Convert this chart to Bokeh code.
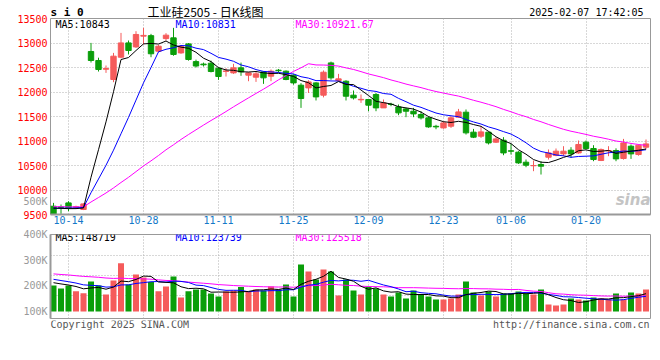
import pandas as pd
from bokeh.plotting import figure
from bokeh.layouts import column, row
from bokeh.models import Range1d, FixedTicker, Label, ColumnDataSource, Grid
from bokeh.core.properties import value
from bokeh.embed import file_html
from bokeh.resources import INLINE

# ---------------- data ----------------
dates = ["10-10", "10-11", "10-14", "10-15", "10-16", "10-17", "10-18", "10-21", "10-22", "10-23",
         "10-24", "10-25", "10-28", "10-29", "10-30", "10-31", "11-01", "11-04", "11-05", "11-06",
         "11-07", "11-08", "11-11", "11-12", "11-13", "11-14", "11-15", "11-18", "11-19", "11-20",
         "11-21", "11-22", "11-25", "11-26", "11-27", "11-28", "11-29", "12-02", "12-03", "12-04",
         "12-05", "12-06", "12-09", "12-10", "12-11", "12-12", "12-13", "12-16", "12-17", "12-18",
         "12-19", "12-20", "12-23", "12-24", "12-25", "12-26", "12-27", "12-30", "12-31", "01-02",
         "01-03", "01-06", "01-07", "01-08", "01-09", "01-10", "01-13", "01-14", "01-15", "01-16",
         "01-17", "01-20", "01-21", "01-22", "01-23", "01-24", "01-27", "02-05", "02-06", "02-07"]

open_ = [9669, 9655, 9737, 9650, 9602, 12827, 12643, 12465, 12255, 12710,
         13002, 12920, 13140, 13150, 12833, 13090, 13105, 12798, 12982, 12620,
         12570, 12588, 12486, 12420, 12390, 12493, 12343, 12302, 12410, 12323,
         12445, 12425, 12343, 12139, 12084, 12186, 11935, 12594, 12235, 12220,
         11935, 11840, 11847, 11949, 11676, 11750, 11696, 11655, 11608, 11541,
         11472, 11300, 11267, 11302, 11486, 11588, 11180, 11098, 11180, 10976,
         11016, 10800, 10772, 10567, 10495, 10520, 10669, 10704, 10737, 10812,
         10757, 10976, 10847, 10602, 10800, 10806, 10643, 10894, 10724, 10874]
high = [9737, 9704, 9771, 9680, 9730, 13002, 12700, 12541, 12798, 13206,
        13051, 13241, 13309, 13186, 12960, 13200, 13309, 12960, 13000, 12660,
        12600, 12640, 12500, 12486, 12575, 12600, 12400, 12425, 12420, 12460,
        12470, 12440, 12360, 12180, 12240, 12200, 12440, 12620, 12370, 12240,
        12031, 11949, 11860, 11982, 11847, 11780, 11745, 11676, 11676, 11608,
        11500, 11330, 11400, 11506, 11655, 11643, 11247, 11302, 11190, 11078,
        11078, 10941, 10792, 10622, 10602, 10588, 10827, 10847, 10894, 10874,
        11010, 11010, 10914, 10847, 10894, 10850, 11043, 10929, 10930, 11031]
low = [9505, 9512, 9567, 9620, 9590, 12602, 12418, 12390, 12200, 12690,
       12766, 12900, 12970, 12710, 12810, 13050, 12740, 12780, 12640, 12500,
       12520, 12400, 12248, 12316, 12370, 12330, 12220, 12206, 12166, 12220,
       12400, 12240, 12150, 11676, 11980, 11827, 11890, 12250, 12220, 11827,
       11847, 11778, 11608, 11608, 11676, 11710, 11527, 11486, 11486, 11439,
       11270, 11240, 11250, 11267, 11472, 11132, 11060, 11063, 10929, 10960,
       10710, 10724, 10533, 10465, 10384, 10316, 10622, 10690, 10690, 10657,
       10740, 10827, 10588, 10590, 10690, 10588, 10620, 10635, 10700, 10827]
close = [9512, 9645, 9635, 9658, 9716, 12643, 12459, 12478, 12731, 13002,
         12847, 13174, 13155, 12780, 12935, 13160, 12766, 12935, 12663, 12530,
         12555, 12419, 12316, 12430, 12493, 12410, 12390, 12370, 12289, 12425,
         12435, 12255, 12186, 11867, 12206, 11900, 12404, 12289, 12268, 11914,
         11880, 11850, 11731, 11676, 11778, 11745, 11574, 11608, 11553, 11472,
         11288, 11288, 11369, 11472, 11594, 11166, 11078, 11186, 10961, 11043,
         10757, 10792, 10553, 10506, 10500, 10486, 10757, 10792, 10792, 10737,
         10929, 10847, 10622, 10827, 10806, 10635, 10961, 10737, 10914, 10941]
# volume, in thousands (scale of the lower panel)
volume_k = [201, 190, 201, 179, 171, 217, 201, 166, 221, 288,
            205, 244, 232, 215, 179, 197, 236, 155, 179, 186,
            186, 170, 158, 178, 182, 195, 178, 186, 182, 197,
            186, 205, 158, 283, 256, 225, 264, 256, 162, 225,
            182, 166, 197, 190, 166, 158, 174, 151, 182, 166,
            158, 147, 147, 151, 166, 217, 174, 162, 178, 158,
            170, 170, 178, 170, 166, 186, 127, 123, 127, 151,
            147, 143, 155, 151, 147, 170, 147, 174, 170, 186]
# sessions before the first visible bar (estimated from where the MA lines start)
pre_close = [9700, 9720, 9690, 9665, 9680, 9710, 9695, 9660, 9650, 9675,
             9700, 9685, 9660, 9645, 9670, 9690, 9680, 9655, 9640, 9665,
             9630, 9615, 9625, 9610, 9640, 9660, 9670, 9655, 9650]
pre_volume_k = [262, 255, 270, 248, 265, 258, 252, 268, 260, 245,
                255, 263, 250, 258, 266, 254, 247, 260, 256, 251,
                238, 246, 232, 241, 236, 214, 222, 208, 216]

date_ticks = ["10-14", "10-28", "11-11", "11-25", "12-09", "12-23", "01-06", "01-20"]
price_ticks = [9500, 10000, 10500, 11000, 11500, 12000, 12500, 13000, 13500]
vol_ticks = [100, 200, 300, 400]

# ---------------- derived ----------------
n = len(close)
idx = list(range(n))
RED, GREEN = "#F55B5B", "#0A9E0A"
colors = [RED if c >= o else GREEN for o, c in zip(open_, close)]
np_ = len(pre_close)
ca = pd.Series(pre_close + close)
ma5 = ca.rolling(5).mean().values[np_:]
ma10 = ca.rolling(10).mean().values[np_:]
ma30 = ca.rolling(30).mean().values[np_:]
va = pd.Series(pre_volume_k + volume_k)
vma5 = va.rolling(5).mean().values[np_:]
vma10 = va.rolling(10).mean().values[np_:]
vma30 = va.rolling(30).mean().values[np_:]

src = ColumnDataSource(dict(
    x=idx, high=high, low=low,
    top=[max(o, c) for o, c in zip(open_, close)],
    bottom=[min(o, c) for o, c in zip(open_, close)],
    color=colors, vol=volume_k, ma5=ma5, ma10=ma10, ma30=ma30,
    vma5=vma5, vma10=vma10, vma30=vma30))

tick_idx = [dates.index(d) for d in date_ticks]
MONO = "DejaVu Sans Mono"
GRID = "#b0b0b0"
BORDER = "#999999"
W = 656
PX = 4000 / 196.0            # price units per pixel in the upper panel

xr = Range1d(-0.4, 79.6)


def strip(width, height, xr_, yr_, left=0, right=0):
    fig = figure(width=width, height=height, x_range=xr_, y_range=yr_,
                 x_axis_type=None, y_axis_type=None,
                 output_backend="svg", toolbar_location=None,
                 min_border_left=left, min_border_right=right, min_border_top=0, min_border_bottom=0)
    fig.background_fill_color = "white"
    fig.border_fill_color = "white"
    fig.outline_line_color = None
    return fig


def txt(fig, x, y, text, color="#000000", size="10px", align="left", font=MONO, style="normal"):
    fig.text(x=[x], y=[y], text=[text], text_font=value(font), text_font_size=size,
             text_font_style=style, text_baseline="middle", text_align=align, text_color=color)


def lab(fig, x, y, text, color="#000000"):
    fig.add_layout(Label(x=x, y=y, text=text, text_color=color, text_font=MONO,
                         text_font_size="10px", text_align="left", text_baseline="middle"))


# ---------------- left gutter with the price labels (same price scale) ----------------
gut = strip(50, 228, Range1d(0, 50), Range1d(9500 - 14 * PX, 13500 + 18 * PX))
gut.text(x=[47] * len(price_ticks), y=price_ticks, text=[str(t) for t in price_ticks],
         text_font=value(MONO), text_font_size="10px", text_baseline="middle",
         text_align="right", text_color="#FF0000")
txt(gut, 47, 9775, "500K", color="#999999", align="right")

# ---------------- header strip (page pixel units, y downward) ----------------
h = strip(606, 18, Range1d(50, 656), Range1d(18, 0))
txt(h, 50, 11.5, "s i 0", size="11px", style="bold")
txt(h, 148, 10.5, "工业硅2505 - 日K线图", size="12px", font="Noto Sans CJK SC")
txt(h, 649, 11.5, "2025-02-07 17:42:05", align="right")

# ---------------- price panel ----------------
p = figure(width=606, height=210, x_range=xr, y_range=Range1d(9500, 13500),
           y_axis_type=None, output_backend="svg", toolbar_location=None,
           min_border_left=0, min_border_right=6, min_border_top=0, min_border_bottom=14)
p.background_fill_color = "white"
p.border_fill_color = "white"
p.outline_line_color = BORDER
p.outline_line_width = 1

p.xaxis.ticker = FixedTicker(ticks=tick_idx)
p.xaxis.major_label_overrides = {i: d for i, d in zip(tick_idx, date_ticks)}
p.xaxis.major_label_text_color = "#1478C8"
p.xaxis.major_label_text_font = MONO
p.xaxis.major_label_text_font_size = "10px"
p.xaxis.major_tick_out = 0
p.xaxis.major_tick_in = 0
p.xaxis.minor_tick_line_color = None
p.xaxis.major_label_standoff = 1
p.xaxis.axis_line_color = BORDER
p.xaxis.axis_line_width = 2
p.xgrid.grid_line_color = GRID
p.xgrid.grid_line_dash = "1 2"
p.add_layout(Grid(dimension=1, ticker=FixedTicker(ticks=price_ticks), grid_line_color=GRID,
                  grid_line_dash="1 2", grid_line_width=1))

p.segment(x0="x", y0="high", x1="x", y1="low", color="color", line_width=1, source=src)
p.vbar(x="x", width=0.72, top="top", bottom="bottom", fill_color="color",
       line_color="color", line_width=1, source=src)
p.line("x", "ma30", color="#FF00FF", line_width=1, source=src)
p.line("x", "ma10", color="#0000FF", line_width=1, source=src)
p.line("x", "ma5", color="#000000", line_width=1, source=src)

lab(p, 0.27, 13378, "MA5:10843")
lab(p, 16.27, 13378, "MA10:10831", color="#0000FF")
lab(p, 32.27, 13378, "MA30:10921.67", color="#FF00FF")
p.add_layout(Label(x=79.6, y=9806, text="sina", text_color="#c4c4c4", text_font="DejaVu Sans",
                   text_font_size="15px", text_font_style="bold italic", text_align="right",
                   text_baseline="middle"))

# ---------------- volume panel ----------------
v = figure(width=W, height=92, x_range=xr, y_range=Range1d(72.7, 400),
           output_backend="svg", toolbar_location=None,
           min_border_left=50, min_border_right=6, min_border_top=6, min_border_bottom=2)
v.background_fill_color = "white"
v.border_fill_color = "white"
v.outline_line_color = BORDER
v.outline_line_width = 1
v.xaxis.visible = False
v.yaxis.ticker = FixedTicker(ticks=vol_ticks)
v.yaxis.major_label_overrides = {t: f"{t}K" for t in vol_ticks}
v.yaxis.major_label_text_color = "#999999"
v.yaxis.major_label_text_font = MONO
v.yaxis.major_label_text_font_size = "10px"
v.yaxis.major_tick_out = 0
v.yaxis.major_tick_in = 0
v.yaxis.minor_tick_line_color = None
v.yaxis.major_label_standoff = 3
v.yaxis.axis_line_color = BORDER
v.yaxis.axis_line_width = 2
v.xgrid.ticker = FixedTicker(ticks=tick_idx)
v.ygrid.ticker = FixedTicker(ticks=[162.3, 240.3, 318.2])
for g in (v.xgrid, v.ygrid):
    g.grid_line_color = GRID
    g.grid_line_dash = "1 2"
    g.grid_line_width = 1

v.vbar(x="x", width=0.8, top="vol", bottom=100, fill_color="color", line_color=None, source=src)
v.line("x", "vma30", color="#FF00FF", line_width=1, source=src)
v.line("x", "vma10", color="#0000FF", line_width=1, source=src)
v.line("x", "vma5", color="#000000", line_width=1, source=src)

lab(v, 0.27, 387, "MA5:148719")
lab(v, 16.27, 387, "MA10:123739", color="#0000FF")
lab(v, 32.27, 387, "MA30:125518", color="#FF00FF")

# ---------------- footer strip (page pixel units, frame aligned with the panels) ----------------
f = strip(W, 20, Range1d(50, 650), Range1d(20, 0), left=50, right=6)
txt(f, 50, 4, "Copyright 2025 SINA.COM", color="#555555")
txt(f, 649, 4, "http://finance.sina.com.cn", color="#555555", align="right")

top = row(gut, column(h, p, spacing=0), spacing=0)
layout = column(top, v, f, spacing=0)
open("out.html", "w").write(file_html(layout, INLINE))
